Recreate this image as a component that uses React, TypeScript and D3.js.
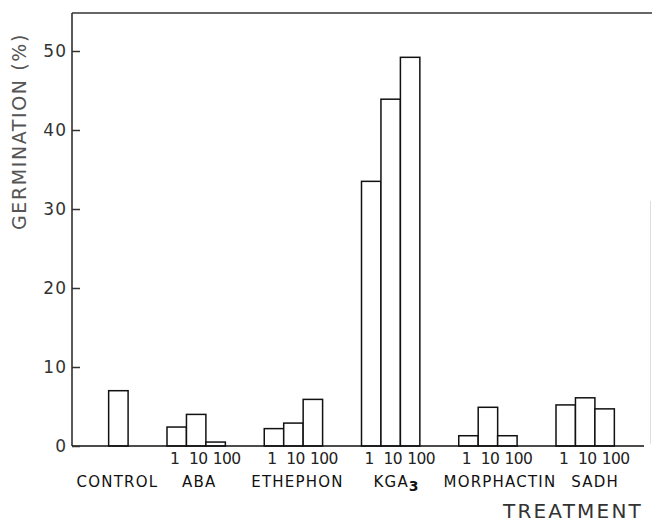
import React, { useEffect, useRef } from "react";
import * as d3 from "d3";

// treatment groups and doses
const groups = ["CONTROL", "ABA", "ETHEPHON", "KGA", "MORPHACTIN", "SADH"];
const doses = ["1", "10", "100"];

// germination (%)
const control = [7.0];
const aba = [2.4, 4.0, 0.5];
const ethephon = [2.2, 2.9, 5.9];
const kga3 = [33.5, 43.9, 49.2];
const morphactin = [1.3, 4.9, 1.3];
const sadh = [5.2, 6.1, 4.7];

const yTicks = [0, 10, 20, 30, 40, 50];

const FONT = "'DejaVu Sans', sans-serif";

export default function App() {
  const ref = useRef<SVGSVGElement>(null);

  useEffect(() => {
    const W = 652, H = 524;
    const svg = d3.select(ref.current);
    svg.selectAll("*").remove();

    const series = [control, aba, ethephon, kga3, morphactin, sadh];

    // bars sit in slots; each treated group takes 3 slots + 2 empty
    const slotOf = (g: number, i: number) => (g === 0 ? -3 : (g - 1) * 5 + i);
    const x = d3.scaleLinear().domain([-5, 25]).range([69.75, 653.25]);
    const bw = x(1) - x(0);
    const y = d3.scaleLinear().domain([0, 50]).range([446, 51]);
    const left = 72;
    const top = y(54.8);

    const bars = series.flatMap((vals, g) =>
      vals.map((v, i) => ({ g, i, v, slot: slotOf(g, i) }))
    );

    // frame: left axis, top line, faint right edge, baseline
    svg.append("line").attr("x1", left).attr("x2", left).attr("y1", top).attr("y2", y(0))
      .attr("stroke", "#222").attr("stroke-width", 1.5);
    svg.append("line").attr("x1", left).attr("x2", W).attr("y1", top).attr("y2", top)
      .attr("stroke", "#333").attr("stroke-width", 1.5);
    svg.append("line").attr("x1", W - 1.5).attr("x2", W - 1.5).attr("y1", y(31)).attr("y2", y(0.3))
      .attr("stroke", "#ddd").attr("stroke-width", 1);

    svg.selectAll(".bar")
      .data(bars)
      .enter()
      .append("rect")
      .attr("class", "bar")
      .attr("x", (d) => x(d.slot))
      .attr("y", (d) => y(d.v))
      .attr("width", bw)
      .attr("height", (d) => y(0) - y(d.v))
      .attr("fill", "#fff")
      .attr("stroke", "#111")
      .attr("stroke-width", 1.5);

    svg.append("line").attr("x1", left).attr("x2", W - 8).attr("y1", y(0)).attr("y2", y(0))
      .attr("stroke", "#111").attr("stroke-width", 1.5);

    // y axis ticks pointing inward
    const yAxis = d3.axisLeft(y).tickValues(yTicks).tickSizeInner(-8).tickSizeOuter(0).tickPadding(5);
    const ag = svg.append("g").attr("transform", `translate(${left},0)`).call(yAxis);
    ag.select(".domain").remove();
    ag.selectAll(".tick line").attr("stroke", "#333").attr("stroke-width", 1.5);
    ag.selectAll(".tick text")
      .attr("font-family", FONT)
      .attr("font-size", 17)
      .attr("letter-spacing", 1)
      .attr("fill", "#333");

    // dose labels under each treated group
    const doseNudge = [-2, 2, 11];
    svg.selectAll(".dose")
      .data(bars.filter((d) => d.g > 0))
      .enter()
      .append("text")
      .attr("class", "dose")
      .attr("x", (d) => x(d.slot) + bw / 2 + doseNudge[d.i])
      .attr("y", 463.5)
      .attr("text-anchor", "middle")
      .attr("font-family", FONT)
      .attr("font-size", 15.5)
      .attr("letter-spacing", -0.6)
      .attr("fill", "#222")
      .text((d) => doses[d.i]);

    // group labels
    const labelNudge = [-1, 3, 4, 6, 12, 10];
    groups.forEach((name, g) => {
      const n = series[g].length;
      const cx = (x(slotOf(g, 0)) + x(slotOf(g, n - 1)) + bw) / 2 + labelNudge[g];
      const t = svg.append("text")
        .attr("x", cx)
        .attr("y", 487)
        .attr("text-anchor", "middle")
        .attr("font-family", FONT)
        .attr("font-size", 15)
        .attr("letter-spacing", 1.2)
        .attr("fill", "#111")
        .text(name);
      if (name === "KGA") {
        t.append("tspan").attr("dy", 4).attr("font-size", 14).attr("font-weight", "bold").text("3");
      }
    });

    // axis titles
    svg.append("text")
      .attr("x", 503)
      .attr("y", 518)
      .attr("font-family", FONT)
      .attr("font-size", 20)
      .attr("letter-spacing", 2.2)
      .attr("fill", "#333")
      .text("TREATMENT");

    svg.append("text")
      .attr("transform", `translate(26,230) rotate(-90)`)
      .attr("font-family", FONT)
      .attr("font-size", 19)
      .attr("letter-spacing", 1.6)
      .attr("fill", "#555")
      .text("GERMINATION (%)");

    svg.attr("width", W).attr("height", H);
  }, []);

  return (
    <svg
      ref={ref}
      width={652}
      height={524}
      style={{ position: "absolute", left: 0, top: 0, background: "#fff" }}
    />
  );
}
